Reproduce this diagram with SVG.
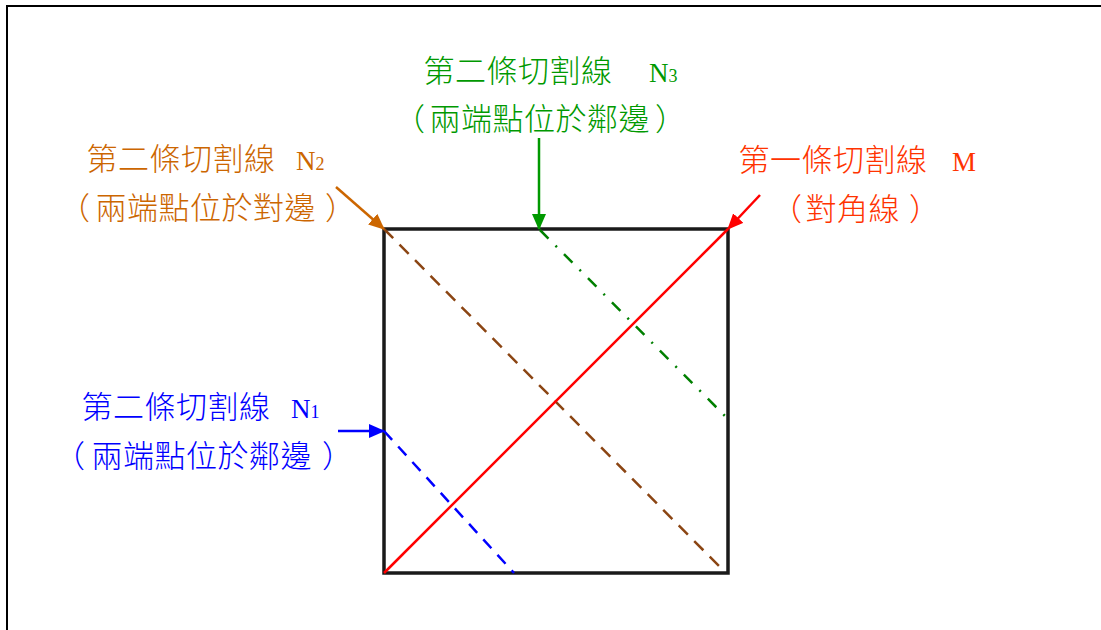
<svg xmlns="http://www.w3.org/2000/svg" width="1101" height="630" viewBox="0 0 1101 630">
<style>
.cjk{font-family:"Noto Sans CJK TC","Liberation Serif",sans-serif;font-size:31px;font-weight:300;letter-spacing:0.5px;text-spacing-trim:space-all}
.lat{font-family:"Liberation Serif",serif;font-size:27px;font-weight:400}
.sub{font-family:"Liberation Serif",serif;font-size:18px}
.ln{fill:none;stroke-width:2.5}
</style>
<defs>
<marker id="aO" viewBox="0 0 16 14" refX="15" refY="7" markerWidth="16" markerHeight="14" markerUnits="userSpaceOnUse" orient="auto"><path d="M0,0 L16,7 L0,14 z" fill="#CC6600"/></marker>
<marker id="aG" viewBox="0 0 16 14" refX="15" refY="7" markerWidth="16" markerHeight="14" markerUnits="userSpaceOnUse" orient="auto"><path d="M0,0 L16,7 L0,14 z" fill="#009900"/></marker>
<marker id="aR" viewBox="0 0 16 14" refX="15" refY="7" markerWidth="16" markerHeight="14" markerUnits="userSpaceOnUse" orient="auto"><path d="M0,0 L16,7 L0,14 z" fill="#FF0000"/></marker>
<marker id="aB" viewBox="0 0 16 14" refX="15" refY="7" markerWidth="16" markerHeight="14" markerUnits="userSpaceOnUse" orient="auto"><path d="M0,0 L16,7 L0,14 z" fill="#0000FF"/></marker>
</defs>
<rect width="1101" height="630" fill="#FFFFFF"/>
<path d="M7,630 V6 H1101" fill="none" stroke="#000" stroke-width="2"/>

<g id="square">
<rect x="384" y="229" width="344" height="344" fill="none" stroke="#1a1a1a" stroke-width="3.5"/>
</g>

<g id="cut-lines">
<line class="ln" x1="384" y1="229" x2="725" y2="572" stroke="#8B4513" stroke-dasharray="13 9"/>
<line class="ln" x1="540" y1="230" x2="728" y2="419" stroke="#007F00" stroke-dasharray="12 10 2 10"/>
<line class="ln" x1="384" y1="431" x2="514" y2="573" stroke="#0000FF" stroke-dasharray="12 9"/>
<line class="ln" x1="384" y1="573" x2="728" y2="229" stroke="#FF0000"/>
</g>

<g id="connectors">
<line class="ln" x1="336" y1="187" x2="384" y2="229" stroke="#CC6600" marker-end="url(#aO)"/>
<line class="ln" x1="539" y1="138" x2="539" y2="229" stroke="#009900" marker-end="url(#aG)"/>
<line class="ln" x1="760" y1="195" x2="728" y2="229" stroke="#FF0000" marker-end="url(#aR)"/>
<line class="ln" x1="338" y1="431" x2="384" y2="431" stroke="#0000FF" marker-end="url(#aB)"/>
</g>

<g id="label-N2" fill="#CC6600">
<text class="cjk" x="86.5" y="170">第二條切割線</text>
<text class="lat" x="296" y="170">N<tspan class="sub">2</tspan></text>
<text class="cjk" y="219"><tspan x="59">（</tspan><tspan x="95.5">兩端點位於對邊</tspan><tspan x="325">）</tspan></text>
</g>

<g id="label-N3" fill="#009900">
<text class="cjk" x="423.5" y="82">第二條切割線</text>
<text class="lat" x="649" y="82">N<tspan class="sub">3</tspan></text>
<text class="cjk" y="130"><tspan x="394">（</tspan><tspan x="429.5">兩端點位於鄰邊</tspan><tspan x="655">）</tspan></text>
</g>

<g id="label-M" fill="#FF3300">
<text class="cjk" x="738.5" y="171">第一條切割線</text>
<text class="lat" x="952" y="171">M</text>
<text class="cjk" y="220"><tspan x="771">（</tspan><tspan x="805.5">對角線</tspan><tspan x="909">）</tspan></text>
</g>

<g id="label-N1" fill="#0000FF">
<text class="cjk" x="81.5" y="418">第二條切割線</text>
<text class="lat" x="291" y="418">N<tspan class="sub">1</tspan></text>
<text class="cjk" y="467"><tspan x="54">（</tspan><tspan x="91.5">兩端點位於鄰邊</tspan><tspan x="322">）</tspan></text>
</g>
</svg>
